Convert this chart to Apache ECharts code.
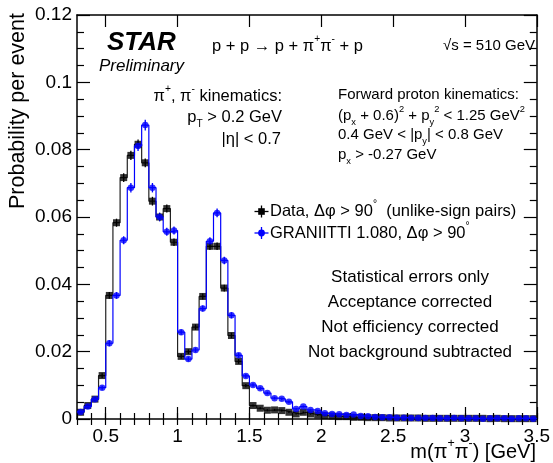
<!DOCTYPE html>
<html lang="en">
<head>
  <meta charset="UTF-8">
  <title>STAR m(pi+pi-)</title>
  <style>
    html, body { margin: 0; padding: 0; background: #fff; }
    #main { width: 553px; height: 463px; }
  </style>
</head>
<body>
  <div id="main"></div>
  <script src="https://cdn.jsdelivr.net/npm/echarts@6/dist/echarts.min.js"></script>
  <script>
    // 0.05 GeV bins from 0.3 to 3.5 GeV
    const binLow = 0.3;
    const binWidth = 0.05;

    // Data, dphi > 90 (black squares)
    const dataVals = [
      0.0020, 0.0040, 0.0059, 0.0129, 0.0367, 0.0583, 0.0717, 0.0783, 0.0816, 0.0761,
      0.0647, 0.0600, 0.0625, 0.0525, 0.0186, 0.0200, 0.0273, 0.0364, 0.0513, 0.0513,
      0.0389, 0.0248, 0.0171, 0.0099, 0.0040, 0.0032, 0.0026, 0.0027, 0.0025, 0.0020,
      0.0015, 0.0020, 0.0015, 0.0012, 0.0010, 0.0009, 0.0007, 0.0007, 0.0005, 0.0005,
      0.0004, 0.0004, 0.0004, 0.0003, 0.0003, 0.0003, 0.0003, 0.0003, 0.0002, 0.0002,
      0.0002, 0.0002, 0.0002, 0.0002, 0.0002, 0.0002, 0.0002, 0.0001, 0.0002, 0.0001,
      0.0001, 0.0001, 0.0001, 0.0001
    ];
    const dataErrs = [
      0.0003, 0.0004, 0.0005, 0.0007, 0.0010, 0.0012, 0.0013, 0.0014, 0.0014, 0.0013,
      0.0013, 0.0012, 0.0012, 0.0011, 0.0007, 0.0007, 0.0008, 0.0009, 0.0011, 0.0011,
      0.0010, 0.0008, 0.0007, 0.0005, 0.0003, 0.0003, 0.0003, 0.0003, 0.0003, 0.0002,
      0.0002, 0.0002, 0.0002, 0.0002, 0.0002, 0.0002, 0.0001, 0.0001, 0.0001, 0.0001,
      0.0001, 0.0001, 0.0001, 0.0001, 0.0001, 0.0001, 0.0001, 0.0001, 0.0001, 0.0001,
      0.0001, 0.0001, 0.0001, 0.0001, 0.0001, 0.0001, 0.0001, 0.0001, 0.0001, 0.0001,
      0.0001, 0.0001, 0.0001, 0.0001
    ];

    // GRANIITTI 1.080 (blue circles)
    const mcVals = [
      0.0021, 0.0037, 0.0059, 0.0093, 0.0225, 0.0367, 0.0531, 0.0687, 0.0811, 0.0873,
      0.0687, 0.0600, 0.0556, 0.0560, 0.0258, 0.0178, 0.0205, 0.0328, 0.0528, 0.0612,
      0.0471, 0.0308, 0.0189, 0.0128, 0.0101, 0.0091, 0.0077, 0.0062, 0.0060, 0.0051,
      0.0030, 0.0037, 0.0027, 0.0024, 0.0017, 0.0015, 0.0014, 0.0012, 0.0013, 0.0009,
      0.0008, 0.0006, 0.0005, 0.0005, 0.0004, 0.0004, 0.0003, 0.0003, 0.0003, 0.0003,
      0.0002, 0.0002, 0.0003, 0.0002, 0.0002, 0.0002, 0.0001, 0.0002, 0.0002, 0.0002,
      0.0001, 0.0002, 0.0002, 0.0001
    ];
    const mcErrs = [
      0.0003, 0.0004, 0.0005, 0.0006, 0.0009, 0.0010, 0.0012, 0.0014, 0.0015, 0.0016,
      0.0014, 0.0013, 0.0012, 0.0012, 0.0008, 0.0007, 0.0007, 0.0009, 0.0012, 0.0013,
      0.0011, 0.0009, 0.0007, 0.0006, 0.0005, 0.0005, 0.0004, 0.0004, 0.0004, 0.0004,
      0.0003, 0.0003, 0.0003, 0.0003, 0.0002, 0.0002, 0.0002, 0.0002, 0.0002, 0.0002,
      0.0001, 0.0001, 0.0001, 0.0001, 0.0001, 0.0001, 0.0001, 0.0001, 0.0001, 0.0001,
      0.0001, 0.0001, 0.0001, 0.0001, 0.0001, 0.0001, 0.0001, 0.0001, 0.0001, 0.0001,
      0.0001, 0.0001, 0.0001, 0.0001
    ];

    const xMajorTicks = [0.5, 1, 1.5, 2, 2.5, 3, 3.5];
    const notes = ['Statistical errors only', 'Acceptance corrected', 'Not efficiency corrected', 'Not background subtracted'];

    const FONT = '"Liberation Sans", Arial, Helvetica, sans-serif';
    const BLACK = '#000';
    const BLUE = '#0000ff';

    // histogram outline: two points per bin
    function stepPoints(vals) {
      const pts = [];
      vals.forEach((v, i) => {
        pts.push([binLow + i * binWidth, v]);
        pts.push([binLow + (i + 1) * binWidth, v]);
      });
      return pts;
    }
    function centers(vals) {
      return vals.map((v, i) => [binLow + (i + 0.5) * binWidth, v]);
    }

    function errorSeries(vals, errs, color) {
      return {
        type: 'custom',
        data: vals.map((v, i) => [binLow + (i + 0.5) * binWidth, v, errs[i]]),
        encode: { x: 0, y: 1 },
        z: 3,
        renderItem: function (params, api) {
          const x = api.value(0), v = api.value(1), e = api.value(2);
          const a = api.coord([x, v - e]);
          const b = api.coord([x, v + e]);
          return {
            type: 'line',
            shape: { x1: a[0], y1: a[1], x2: b[0], y2: b[1] },
            style: { stroke: color, lineWidth: 1.3 }
          };
        }
      };
    }

    function richFor(size) {
      return {
        sup: { fontSize: size * 0.62, fontFamily: FONT, fill: BLACK, verticalAlign: 'top', lineHeight: size * 0.7 },
        sub: { fontSize: size * 0.62, fontFamily: FONT, fill: BLACK, verticalAlign: 'bottom', lineHeight: size * 0.7 }
      };
    }

    function txt(text, x, y, align, size, extra) {
      size = size || 15;
      return {
        type: 'text', x: x, y: y, z: 100,
        style: Object.assign({
          text: text, fontFamily: FONT, fontSize: size, fill: BLACK,
          align: align || 'left', verticalAlign: 'middle',
          lineHeight: size * 1.45, rich: richFor(size)
        }, extra || {})
      };
    }

    function legendMark(y, color, shape) {
      const cx = 261.5;
      const els = [
        { type: 'line', z: 100, shape: { x1: cx - 7, y1: y, x2: cx + 7, y2: y }, style: { stroke: color, lineWidth: 1.3 } },
        { type: 'line', z: 100, shape: { x1: cx, y1: y - 6, x2: cx, y2: y + 6 }, style: { stroke: color, lineWidth: 1.3 } }
      ];
      if (shape === 'rect') {
        els.push({ type: 'rect', z: 101, shape: { x: cx - 3.3, y: y - 3.3, width: 6.6, height: 6.6 }, style: { fill: color } });
      } else {
        els.push({ type: 'circle', z: 101, shape: { cx: cx, cy: y, r: 3.4 }, style: { fill: color } });
      }
      return els;
    }

    const axisLineStyle = { color: BLACK, width: 1.5 };
    const tickStyle = { color: BLACK, width: 1.2 };

    function xAxisMajor(position, showLabel) {
      return {
        type: 'value', min: 0.3, max: 3.5, position: position,
        axisLine: { show: true, onZero: false, lineStyle: axisLineStyle },
        axisTick: { show: true, inside: true, length: 12, customValues: xMajorTicks, lineStyle: tickStyle },
        axisLabel: { show: showLabel, customValues: xMajorTicks, fontSize: 19, color: BLACK, fontFamily: FONT, margin: 8 },
        splitLine: { show: false }
      };
    }
    function xAxisMinor(position) {
      return {
        type: 'value', min: 0.3, max: 3.5, interval: 0.1, position: position,
        axisLine: { show: false },
        axisTick: { show: true, inside: true, length: 6, lineStyle: tickStyle },
        axisLabel: { show: false },
        splitLine: { show: false }
      };
    }
    function yAxisDef(position, showLabel) {
      return {
        type: 'value', min: 0, max: 0.12, interval: 0.02, position: position,
        axisLine: { show: true, onZero: false, lineStyle: axisLineStyle },
        axisTick: { show: true, inside: true, length: 13, lineStyle: tickStyle },
        minorTick: { show: true, splitNumber: 4, length: 7, lineStyle: tickStyle },
        axisLabel: { show: showLabel, fontSize: 19, color: BLACK, fontFamily: FONT, margin: 5 },
        splitLine: { show: false },
        minorSplitLine: { show: false }
      };
    }

    let graphics = [
      txt('STAR', 107, 43, 'left', 26, { fontWeight: 'bold', fontStyle: 'italic' }),
      txt('Preliminary', 99, 66, 'left', 17, { fontStyle: 'italic' }),
      txt('p + p → p + π{sup|+}π{sup|-} + p', 212, 46, 'left', 16.5),
      txt('√s = 510 GeV', 443, 46, 'left', 15),
      txt('π{sup|+}, π{sup|-} kinematics:', 282, 96, 'right', 16.5),
      txt('p{sub|T} > 0.2 GeV', 282, 117, 'right', 16.5),
      txt('|η| < 0.7', 281, 139, 'right', 16.5),
      txt('Forward proton kinematics:', 338, 95, 'left', 15),
      txt('(p{sub|x} + 0.6){sup|2} + p{sub|y}{sup|2} < 1.25 GeV{sup|2}', 338, 116, 'left', 15),
      txt('0.4 GeV < |p{sub|y}| < 0.8 GeV', 338, 135, 'left', 15),
      txt('p{sub|x} > -0.27 GeV', 338, 155, 'left', 15),
      txt('Data, Δφ > 90{sup|°}  (unlike-sign pairs)', 270, 211.5, 'left', 16.5),
      txt('GRANIITTI 1.080, Δφ > 90{sup|°}', 270, 233, 'left', 16.5),
      txt('m(π{sup|+}π{sup|-}) [GeV]', 536, 452, 'right', 20),
      {
        type: 'text', x: 18, y: 13, rotation: Math.PI / 2, z: 100,
        style: { text: 'Probability per event', fontFamily: FONT, fontSize: 21.5, fill: BLACK, align: 'right', verticalAlign: 'middle' }
      }
    ];
    notes.forEach((n, i) => graphics.push(txt(n, 410, 277 + i * 25, 'center', 17)));
    graphics = graphics.concat(legendMark(211.5, BLACK, 'rect'), legendMark(233, BLUE, 'circle'));

    const chart = echarts.init(document.getElementById('main'), null, { renderer: 'canvas' });
    chart.setOption({
      animation: false,
      backgroundColor: '#fff',
      grid: { left: 77, top: 15, right: 16, bottom: 44, containLabel: false },
      xAxis: [xAxisMajor('bottom', true), xAxisMinor('bottom'), xAxisMajor('top', false), xAxisMinor('top')],
      yAxis: [yAxisDef('left', true), yAxisDef('right', false)],
      series: [
        {
          name: 'Data', type: 'line', data: stepPoints(dataVals), showSymbol: false, z: 2,
          lineStyle: { color: '#222', width: 1.2 }
        },
        errorSeries(dataVals, dataErrs, BLACK),
        {
          type: 'scatter', data: centers(dataVals), symbol: 'rect', symbolSize: 7, z: 4,
          itemStyle: { color: BLACK }
        },
        {
          name: 'GRANIITTI', type: 'line', data: stepPoints(mcVals), showSymbol: false, z: 5,
          lineStyle: { color: BLUE, width: 1.2 }
        },
        errorSeries(mcVals, mcErrs, BLUE),
        {
          type: 'scatter', data: centers(mcVals), symbol: 'circle', symbolSize: 6.5, z: 7,
          itemStyle: { color: BLUE }
        }
      ],
      graphic: graphics
    });
  </script>
</body>
</html>
